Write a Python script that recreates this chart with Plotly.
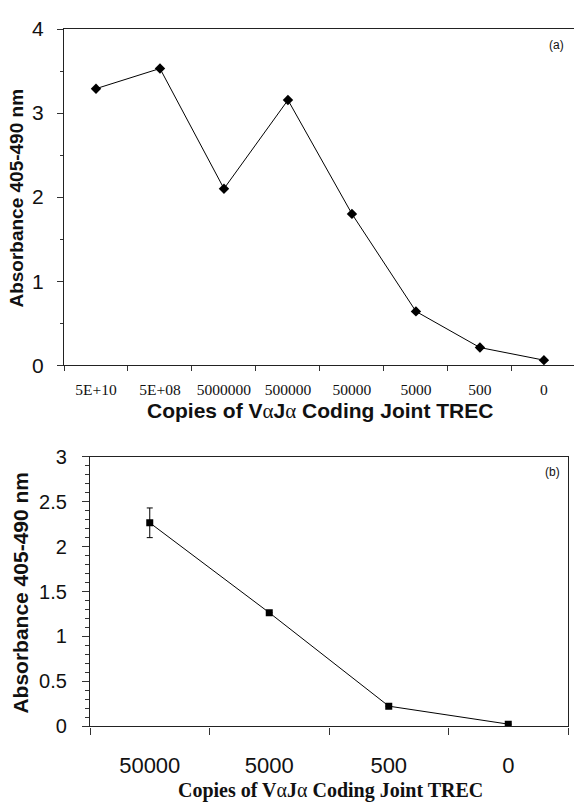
import plotly.graph_objects as go

# ---- data ----
cats_a = ["5E+10", "5E+08", "5000000", "500000", "50000", "5000", "500", "0"]
vals_a = [3.29, 3.53, 2.10, 3.155, 1.80, 0.64, 0.21, 0.06]

cats_b = ["50000", "5000", "500", "0"]
vals_b = [2.265, 1.265, 0.225, 0.025]
err_b = [0.165, 0.0, 0.0, 0.0]

W, H = 574, 812
def px(x): return x / W
def py(y): return 1 - y / H

fig = go.Figure()

fig.add_trace(go.Scatter(
    x=cats_a, y=vals_a, xaxis="x", yaxis="y", mode="lines+markers",
    line=dict(color="black", width=1),
    marker=dict(symbol="diamond", size=8, color="black"),
    showlegend=False))

fig.add_trace(go.Scatter(
    x=cats_b, y=vals_b, xaxis="x2", yaxis="y2", mode="lines+markers",
    line=dict(color="black", width=1),
    marker=dict(symbol="square", size=7, color="black"),
    error_y=dict(type="data", array=err_b, color="black", thickness=1, width=3),
    showlegend=False))

axis_common = dict(showgrid=False, zeroline=False, showline=True,
                   linecolor="#222", linewidth=1.3, ticks="outside",
                   tickcolor="#333", tickwidth=1)

fig.update_layout(
    width=W, height=H, margin=dict(l=0, r=0, t=0, b=0),
    paper_bgcolor="white", plot_bgcolor="white",
    xaxis=dict(**axis_common, domain=[px(64), 1], anchor="y",
               type="category", range=[-0.5, 7.47], tickson="boundaries",
               ticklen=5, mirror=True, tickangle=0,
               tickfont=dict(family="Liberation Serif", size=15.5, color="#111"),
               ticklabelstandoff=10),
    yaxis=dict(**axis_common, domain=[py(363.5), py(17.5)], anchor="x",
               range=[0, 4], dtick=1, ticklen=6,
               tickfont=dict(family="Liberation Sans", size=21, color="#111"),
               ticklabelstandoff=9,
               minor=dict(dtick=0.5, ticklen=3, ticks="outside", tickcolor="#333")),
    xaxis2=dict(**axis_common, domain=[px(90), px(568)], anchor="y2",
                type="category", range=[-0.5, 3.5], tickson="boundaries",
                ticklen=7, mirror=True, tickangle=0,
                tickfont=dict(family="Liberation Sans", size=22, color="#111"),
                ticklabelstandoff=19),
    yaxis2=dict(**axis_common, domain=[py(735.2), py(457.7)], anchor="x2",
                range=[0, 3], dtick=0.5, ticklen=7, mirror=True,
                tickfont=dict(family="Liberation Sans", size=20, color="#111"),
                ticklabelstandoff=11,
                minor=dict(dtick=0.1, ticklen=4, ticks="outside", tickcolor="#333")),
)

alpha = '<span style="font-family:Liberation Serif;font-weight:normal">α</span>'

annots = [
    dict(text="Absorbance 405-490 nm", x=px(17), y=py(192), textangle=-90,
         font=dict(family="Liberation Sans", size=19, color="#111"), bold=True),
    dict(text=f"Copies of V{alpha}J{alpha} Coding Joint TREC", x=px(320), y=py(411),
         font=dict(family="Liberation Sans", size=21, color="#111"), bold=True),
    dict(text="(a)", x=px(556), y=py(34),
         font=dict(family="Liberation Sans", size=12, color="#111")),
    dict(text="Absorbance 405-490 nm", x=px(21), y=py(597.5), textangle=-90,
         font=dict(family="Liberation Sans", size=21, color="#111"), bold=True),
    dict(text=f"Copies of V{alpha}J{alpha} Coding Joint TREC", x=px(330), y=py(801),
         font=dict(family="Liberation Serif", size=20, color="#111"), bold=True),
    dict(text="(b)", x=px(552), y=py(473),
         font=dict(family="Liberation Sans", size=12, color="#111")),
]
for a in annots:
    bold = a.pop("bold", False)
    if bold:
        a["text"] = "<b>" + a["text"] + "</b>"
    fig.add_annotation(xref="paper", yref="paper", showarrow=False,
                       xanchor="center", yanchor="middle", **a)

fig.write_html("out.html")
